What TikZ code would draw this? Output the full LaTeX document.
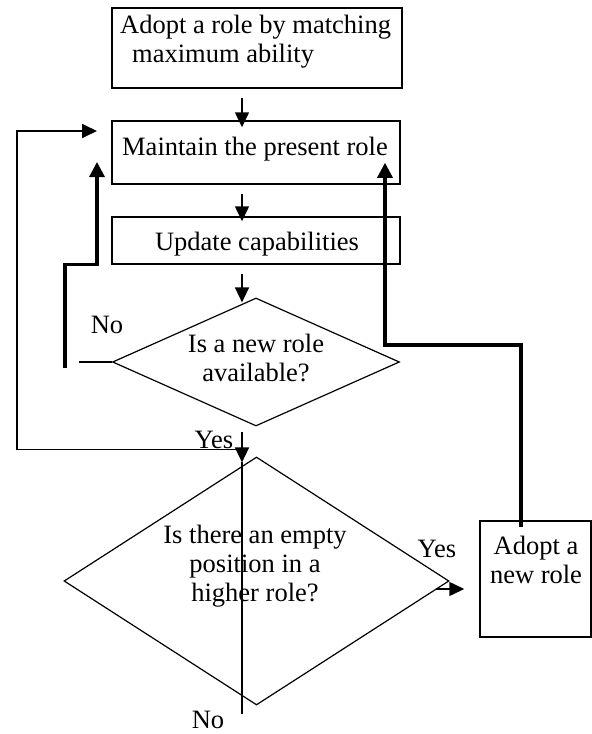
\documentclass[tikz,border=0pt]{standalone}
\usepackage{fontspec}
\setmainfont{Liberation Serif}
\usetikzlibrary{shapes.geometric,arrows.meta}

\begin{document}
\begin{tikzpicture}[x=1pt, y=-1pt,
  box/.style={draw, line width=1.5pt, inner sep=0pt},
  decision/.style={draw, diamond, line width=1.2pt, inner sep=0pt},
  txt/.style={font=\fontsize{26.5}{29}\selectfont, inner sep=0pt},
  flow/.style={line width=1.5pt, -{Triangle[length=15pt,width=14pt]}},
  loopline/.style={line width=1.8pt},
  back/.style={line width=3.2pt}]
\useasboundingbox (0,0) rectangle (592,734);
\coordinate (mid) at (242,0);

% boxes and decisions
\node[box, minimum width=290pt, minimum height=80pt] (adopt) at (257,48) {};
\node[box, minimum width=288pt, minimum height=63pt] (maintain) at (256,152.5) {};
\node[box, minimum width=288pt, minimum height=47pt] (update) at (256,240.5) {};
\node[decision, minimum width=287pt, minimum height=128pt] (newrole) at (256,362) {};
\node[decision, minimum width=385pt, minimum height=248pt] (empty) at (256.5,581) {};
\node[box, minimum width=111pt, minimum height=116pt] (newbox) at (535.5,579) {};

% texts
\node[txt, align=left, anchor=north west] (adopt-t) at (120,15)
  {Adopt a role by matching\\\hspace*{12pt}maximum ability};
\node[txt, anchor=base] (maintain-t) at (255,155) {Maintain the present role};
\node[txt, anchor=base] (update-t) at (257,250) {Update capabilities};
\node[txt, align=center, anchor=north] (newrole-t) at (256,334) {Is a new role\\available?};
\node[txt, align=center, anchor=north] (empty-t) at (255,525)
  {Is there an empty\\position in a\\higher role?};
\node[txt, align=center, anchor=north] (newbox-t) at (536,536) {Adopt a\\new role};

% labels
\node[txt, anchor=base] (no1) at (107,333) {No};
\node[txt, anchor=base] (yes1) at (214,448) {Yes};
\node[txt, anchor=base] (yes2) at (437,557) {Yes};
\node[txt, anchor=base] (no2) at (208,728) {No};

% free ends
\coordinate (noturn) at (65,368);
\coordinate (nohead) at (97,162);
\coordinate (yesleft) at (17,131);
\coordinate (yeshead) at (97,131);
\coordinate (newturn) at (385,345);

% main flow
\draw[flow] ([yshift=-9pt]adopt.south -| mid) -- ([yshift=-7pt]maintain.north -| mid);
\draw[flow] ([yshift=-9pt]maintain.south -| mid) -- ([yshift=-5pt]update.north -| mid);
\draw[flow] ([yshift=-9pt]update.south -| mid) -- ([yshift=-5pt]newrole.north -| mid);

% no: keep the role
\draw[line width=1.5pt] (newrole.west) -- ++(-33,0);
\draw[back, -{Triangle[length=15pt,width=15pt]}] (noturn) |- (update.south -| nohead) -- (nohead);

% yes: look for a higher role
\draw[flow] ([yshift=24pt]empty.north -| mid) -- ([yshift=-6pt]empty.north -| mid);
\draw[line width=1.5pt] ([yshift=-6pt]empty.north -| mid) -- ([yshift=-8pt]empty.south -| mid);
\draw[loopline, -{Triangle[length=15pt,width=14pt]}] ([yshift=7pt]empty.north -| mid) -| (yesleft) -- (yeshead);
\draw[flow] ([xshift=-14pt,yshift=-8pt]empty.east) -- ([xshift=-15pt,yshift=-10pt]newbox.west);
\draw[back, -{Triangle[length=15pt,width=15pt]}] ([xshift=-14.5pt,yshift=-7pt]newbox.north) |- (newturn)
  -- ([yshift=22pt]maintain.south -| newturn);
\end{tikzpicture}
\end{document}
